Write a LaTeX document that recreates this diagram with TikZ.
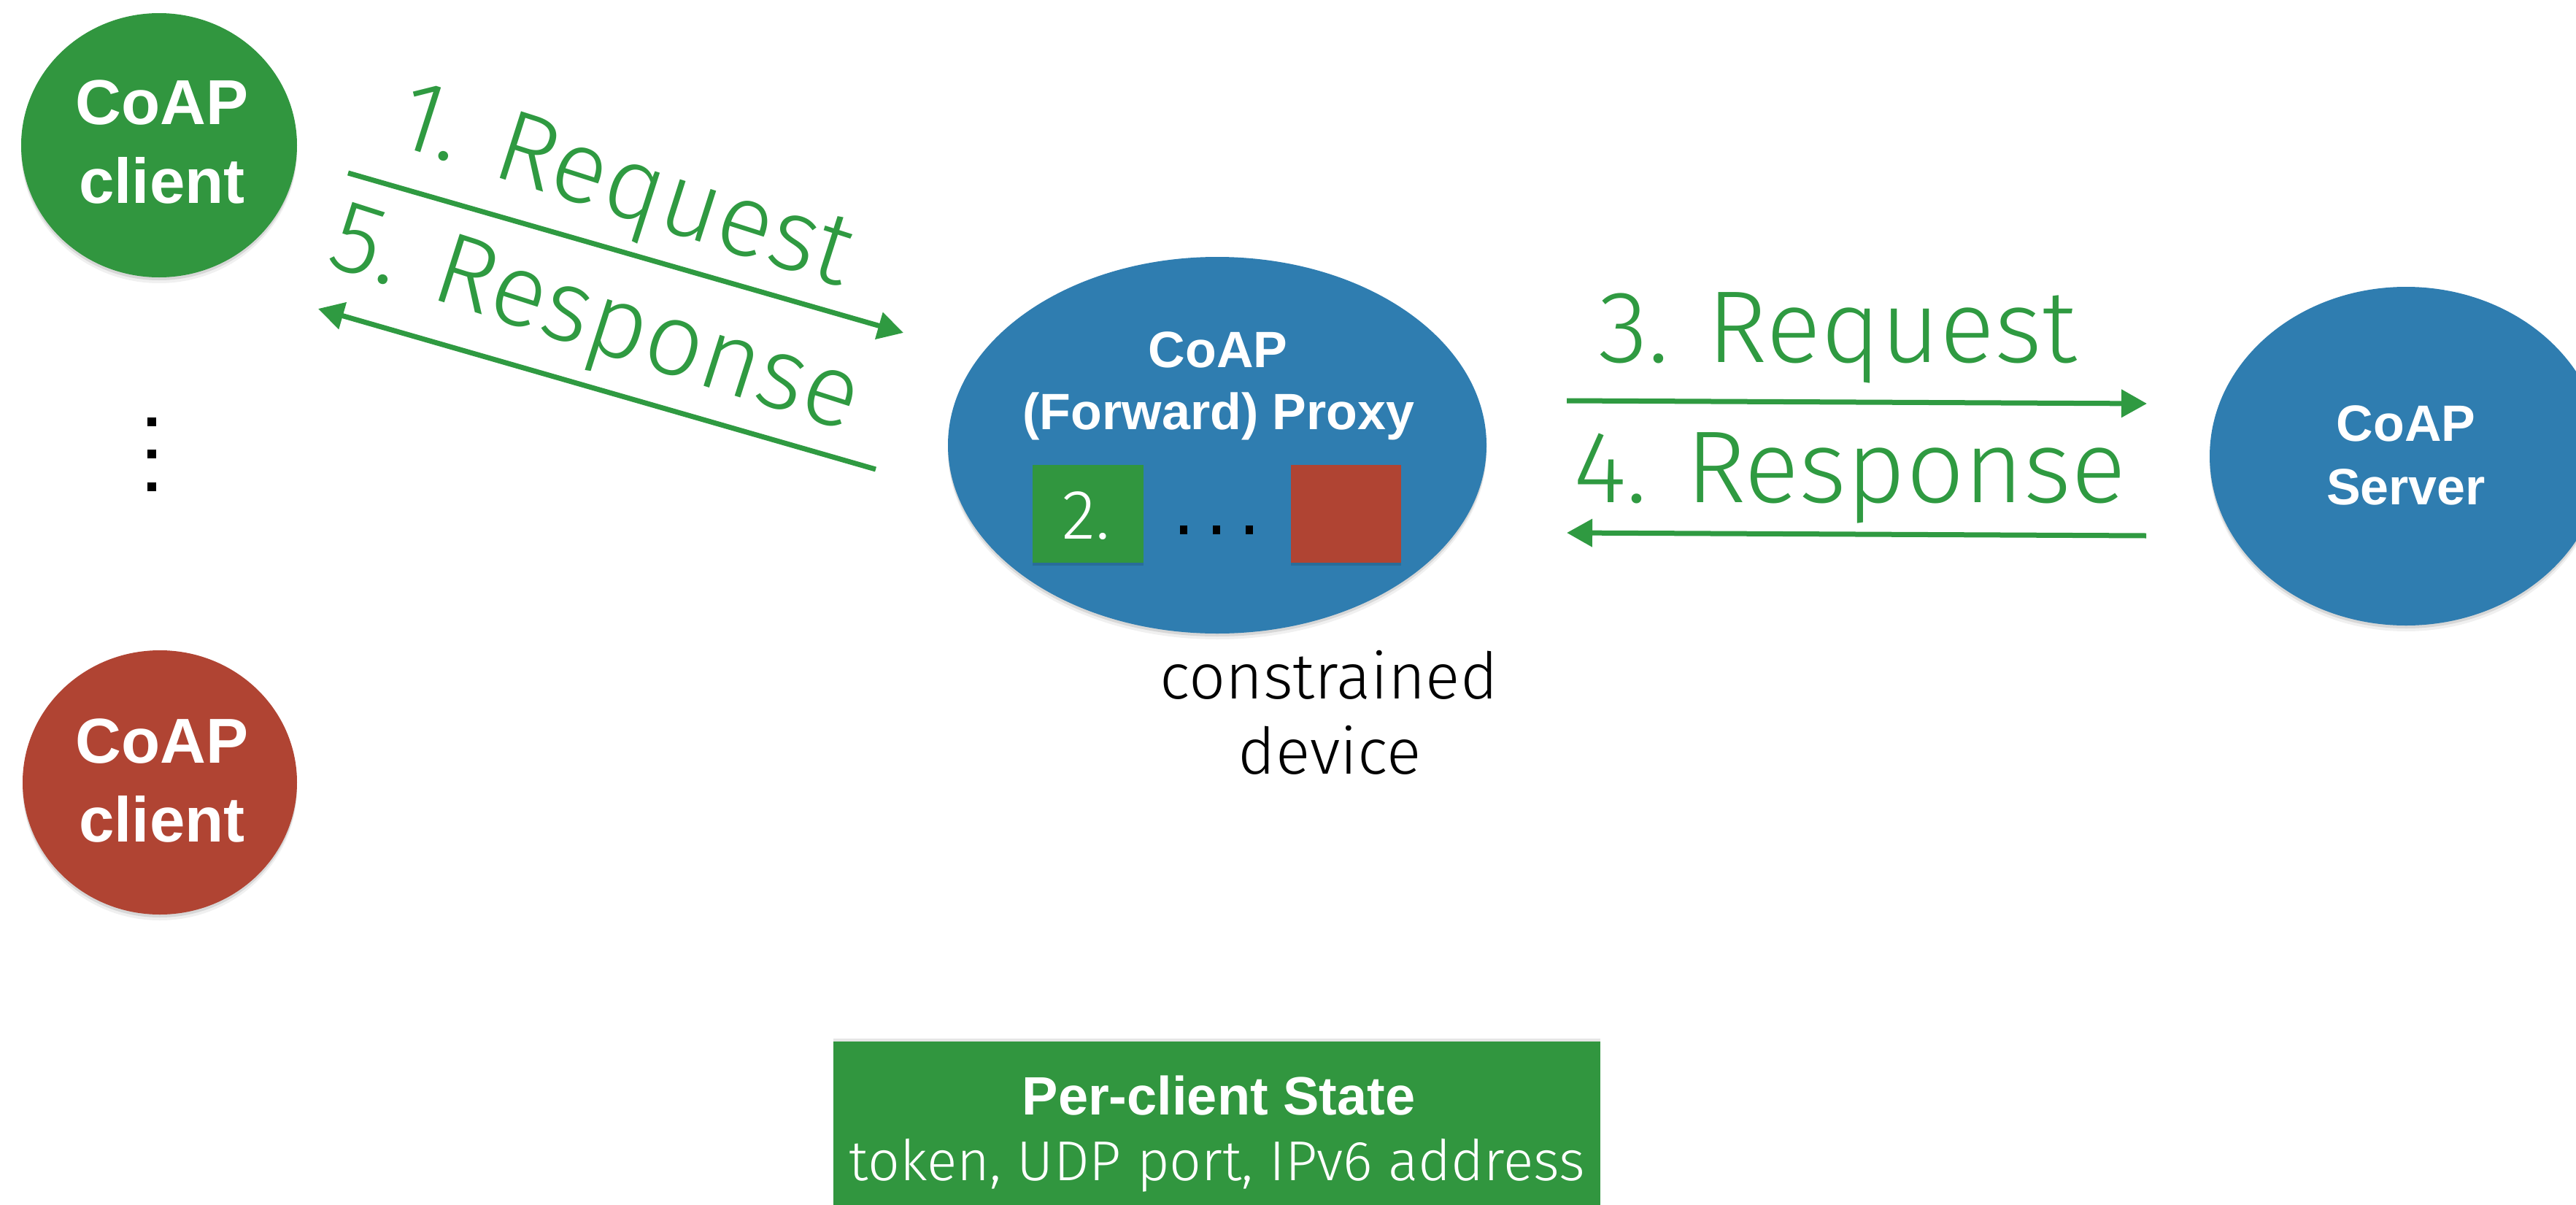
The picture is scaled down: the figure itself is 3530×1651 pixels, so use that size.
\documentclass[tikz,border=0pt]{standalone}
\usepackage{fontspec}
\setmainfont{Liberation Sans}
\newfontfamily\lightfont{Fira Sans Light}
\usetikzlibrary{arrows.meta,shapes.geometric,shadows}
\definecolor{cgreen}{HTML}{31963F}
\definecolor{cblue}{HTML}{2F7DB0}
\definecolor{cred}{HTML}{B04433}
\definecolor{tgreen}{HTML}{2F9A41}
\begin{document}
\begin{tikzpicture}[x=1pt,y=-1pt,
  blob/.style={ellipse, inner sep=0pt, outer sep=0pt, draw=none,
    drop shadow={shadow xshift=0pt,shadow yshift=-4pt,opacity=0.10,fill=black},
    drop shadow={shadow xshift=0pt,shadow yshift=-8pt,opacity=0.06,fill=black}},
  sq/.style={rectangle, inner sep=0pt, outer sep=0pt, draw=none, anchor=north west},
  boldlbl/.style={text=white, anchor=base, inner sep=0pt},
  lightlbl/.style={anchor=base, inner sep=0pt, font=\lightfont},
  arrlbl/.style={anchor=base, inner sep=0pt, text=tgreen, font=\lightfont\fontsize{140}{160}\selectfont},
  flow/.style={draw=tgreen, line width=7pt, -{Triangle[length=35pt,width=37pt]}},
  dotsq/.style={fill=black}
]
\useasboundingbox (0,0) rectangle (3530,1651);
\fill[white] (0,0) rectangle (3530,1651);

% clients
\node[blob, fill=cgreen, minimum width=378pt, minimum height=362pt] (cl1) at (218,199) {};
\node[boldlbl, font=\bfseries\fontsize{87}{100}\selectfont] (cl1a) at (222,170) {CoAP};
\node[boldlbl, font=\bfseries\fontsize{87}{100}\selectfont] (cl1b) at (222,278) {client};

\node[blob, fill=cred, minimum width=376pt, minimum height=362pt] (cl2) at (219,1072) {};
\node[boldlbl, font=\bfseries\fontsize{87}{100}\selectfont] (cl2a) at (222,1045) {CoAP};
\node[boldlbl, font=\bfseries\fontsize{87}{100}\selectfont] (cl2b) at (222,1153) {client};

% vertical dots
\fill[dotsq] (202,572) rectangle (214,584);
\fill[dotsq] (202,616) rectangle (214,628);
\fill[dotsq] (202,661) rectangle (214,673);

% proxy
\node[blob, fill=cblue, minimum width=738pt, minimum height=516pt] (proxy) at (1668,610) {};
\node[boldlbl, font=\bfseries\fontsize{70}{84}\selectfont] (pxa) at (1669,503) {CoAP};
\node[boldlbl, font=\bfseries\fontsize{70}{84}\selectfont] (pxb) at (1670,588) {(Forward) Proxy};
\node[sq, fill=cgreen, minimum width=152pt, minimum height=134pt,
  drop shadow={shadow xshift=0pt,shadow yshift=-4pt,opacity=0.12,fill=black}] (st1) at (1415,637) {};
\node[sq, fill=cred, minimum width=151pt, minimum height=134pt,
  drop shadow={shadow xshift=0pt,shadow yshift=-4pt,opacity=0.12,fill=black}] (st2) at (1769,637) {};
\node[lightlbl, text=white, font=\lightfont\fontsize{96}{110}\selectfont] (st1t) at (1488,738) {2.};
\fill[dotsq] (1617,720) rectangle (1627,732);
\fill[dotsq] (1662,720) rectangle (1672,732);
\fill[dotsq] (1707,720) rectangle (1717,732);

\node[lightlbl, font=\lightfont\fontsize{88}{100}\selectfont] (cd1) at (1821,957) {constrained};
\node[lightlbl, font=\lightfont\fontsize{88}{100}\selectfont] (cd2) at (1822,1060) {device};

% server
\node[blob, fill=cblue, minimum width=538pt, minimum height=464pt] (server) at (3297,625) {};
\node[boldlbl, font=\bfseries\fontsize{70}{84}\selectfont] (sva) at (3297,604) {CoAP};
\node[boldlbl, font=\bfseries\fontsize{70}{84}\selectfont] (svb) at (3297,691) {Server};

% state box
\node[sq, fill=cgreen, minimum width=1051pt, minimum height=240pt,
  drop shadow={shadow xshift=0pt,shadow yshift=4pt,opacity=0.10,fill=black}] (statebox) at (1142,1427) {};
\node[boldlbl, font=\bfseries\fontsize{74}{90}\selectfont] (sbt1) at (1670,1527) {Per-client State};
\node[lightlbl, text=white, font=\lightfont\fontsize{77}{90}\selectfont] (sbt2) at (1668,1617) {token, UDP port, IPv6 address};

% arrows
\coordinate (a1s) at (477,237);
\coordinate (a1e) at (1238,456);
\coordinate (a5s) at (1200,643);
\coordinate (a5e) at (436,423);
\coordinate (a3s) at (2147,549);
\coordinate (a3e) at (2942,553);
\coordinate (a4s) at (2941,734);
\coordinate (a4e) at (2147,730);
\draw[flow] (a1s) -- (a1e);
\draw[flow] (a5s) -- (a5e);
\draw[flow] (a3s) -- (a3e);
\draw[flow] (a4s) -- (a4e);

\node[arrlbl, rotate=-17.7] (l1) at (845,295) {1. Request};
\node[arrlbl, rotate=-17.7] (l5) at (803,477) {5. Response};
\node[arrlbl] (l3) at (2518,496) {3. Request};
\node[arrlbl] (l4) at (2535,688) {4. Response};
\end{tikzpicture}
\end{document}
